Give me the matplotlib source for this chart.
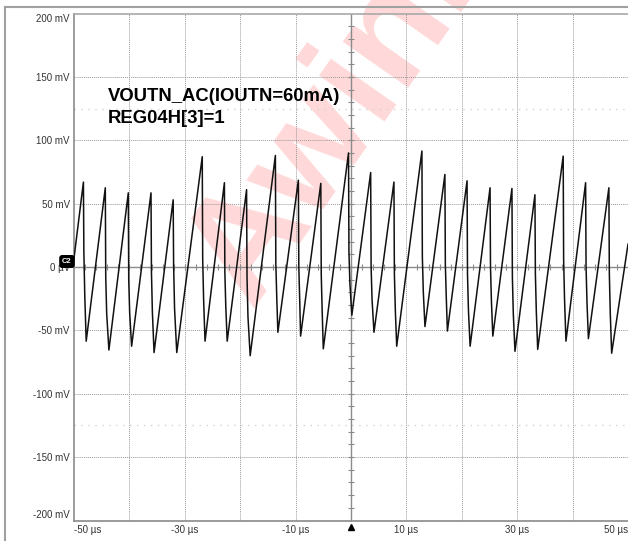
import numpy as np
import matplotlib
matplotlib.use('Agg')
import matplotlib.pyplot as plt
from matplotlib.lines import Line2D
from matplotlib.transforms import ScaledTranslation

plt.rcParams['font.family'] = ['Liberation Sans', 'DejaVu Sans']

# sawtooth (us, mV)
peak_t = [-48.3, -44.35, -40.2, -36.1, -32.1, -26.85, -22.85, -18.85, -13.65, -9.5, -5.45, -0.45,
          3.55, 7.75, 12.8, 16.95, 20.95, 25.1, 29.05, 33.2, 38.3, 42.35, 46.55]
peak_v = [67, 62.5, 58.5, 58.5, 53, 87, 66.5, 61, 88, 68.5, 66, 90,
          74.5, 67, 91.5, 73, 68, 62.5, 62, 57, 87.5, 66.5, 62.5]
mid_v = [12, -8, -10, -4, 2, 6, -4, -8, 3, 0, -6, 12,
         0, -5, 8, 2, -6, 0, -8, -5, 6, 0, -5]
trough_t = [-47.8, -43.7, -39.6, -35.55, -31.45, -26.35, -22.35, -18.2, -13.2, -9.1, -5.0, 0.15,
            4.15, 8.25, 13.35, 17.4, 21.5, 25.6, 29.6, 33.7, 38.8, 42.85, 47.05]
trough_v = [-58.5, -65.5, -62.5, -67.5, -67.5, -58.5, -58.5, -70, -51.5, -54.5, -64.5, -38,
            -51.5, -62.5, -47, -50.5, -62.5, -54.5, -66.5, -65, -58.5, -56.5, -68]
start_v = 7
end_v = 18

t = [-50.0]
v = [start_v]
for i in range(len(peak_t)):
    t += [peak_t[i], peak_t[i] + 0.08, peak_t[i] + 0.25, trough_t[i]]
    v += [peak_v[i], mid_v[i], (mid_v[i] + trough_v[i]) / 2, trough_v[i]]
t.append(50.0)
v.append(end_v)

xtick_vals = [-50, -30, -10, 10, 30, 50]
xtick_labels = ['-50 µs', '-30 µs', '-10 µs', '10 µs', '30 µs', '50 µs']
ytick_vals = [200, 150, 100, 50, 0, -50, -100, -150, -200]
ytick_labels = ['200 mV', '150 mV', '100 mV', '50 mV', '0 µV', '-50 mV', '-100 mV', '-150 mV', '-200 mV']

W, H = 628, 541
fig = plt.figure(figsize=(W / 100, H / 100), dpi=100)
fig.patch.set_facecolor('white')
ax = fig.add_axes([74 / W, 20.5 / H, 554 / W, 507 / H])
ax.patch.set_visible(False)
ax.set_xlim(-50, 50)
ax.set_ylim(-200, 200)

ax.spines['right'].set_visible(False)
for s in ['left', 'bottom']:
    ax.spines[s].set_color('#8a8a8a')
    ax.spines[s].set_linewidth(1.2)
ax.spines['top'].set_color('#a8a8a8')
ax.spines['top'].set_linewidth(1.2)

# dotted grid
for x in range(-40, 50, 10):
    if x != 0:
        ax.axvline(x, color='#9a9a9a', ls=(0, (1, 1)), lw=0.7, zorder=1)
for y in [-150, -100, -50, 50, 100, 150]:
    ax.axhline(y, color='#9a9a9a', ls=(0, (1, 1)), lw=0.7, zorder=1)
# faint cursor lines
for y in [125, -125]:
    ax.axhline(y, color='#d2d2d2', ls=(0, (1, 4)), lw=1.0, zorder=1)

# centre cross with minor ticks
ax.axhline(0, color='#8a8a8a', lw=1.0, zorder=1)
ax.axvline(0, color='#8a8a8a', lw=1.0, zorder=1)
xs = np.arange(-48, 50, 2)
ax.plot(xs, np.zeros_like(xs), ls='none', marker='|', ms=4, mew=0.8, color='#8a8a8a', zorder=1)
ys = np.arange(-190, 200, 10)
ax.plot(np.zeros_like(ys), ys, ls='none', marker='_', ms=4, mew=0.8, color='#8a8a8a', zorder=1)

ax.plot(t, v, color='#111111', lw=1.1, zorder=3)

ax.set_xticks(xtick_vals, xtick_labels)
ax.set_yticks(ytick_vals, ytick_labels)
ax.tick_params(length=0, labelsize=7, labelcolor='#333333')
ax.tick_params(axis='x', pad=3)
ax.tick_params(axis='y', pad=3)
xl = ax.get_xticklabels()
xl[0].set_ha('left')
xl[-1].set_ha('right')
yl = ax.get_yticklabels()
yl[0].set_va('top')
yl[-1].set_va('bottom')

# trigger marker
tr = ax.transData + ScaledTranslation(0, -6 / 100, fig.dpi_scale_trans)
ax.plot([0], [-200], marker='^', color='black', ms=4.5, transform=tr, clip_on=False, zorder=5)

# outer frame
fig.add_artist(Line2D([5 / W, 5 / W], [0, 1 - 6.5 / H], transform=fig.transFigure, color='#a0a0a0', lw=1.5))
fig.add_artist(Line2D([5 / W, 1], [1 - 6.5 / H, 1 - 6.5 / H], transform=fig.transFigure, color='#a0a0a0', lw=1.5))

# channel tag
fig.text(67 / W, 1 - 261.5 / H, 'C2', color='white', fontsize=5.5, fontweight='bold', ha='center', va='center',
         bbox=dict(boxstyle='round,pad=0.3', fc='black', ec='black'), zorder=5)

# caption
fig.text(108 / W, 1 - 100.7 / H, 'VOUTN_AC(IOUTN=60mA)', fontsize=13.3, fontweight='bold', color='black',
         ha='left', va='baseline', zorder=4)
fig.text(108 / W, 1 - 123.3 / H, 'REG04H[3]=1', fontsize=13.3, fontweight='bold', color='black',
         ha='left', va='baseline', zorder=4)

# watermark
fig.text(250 / W, 1 - 308 / H, 'Awinic', rotation=55, rotation_mode='anchor', ha='left', va='baseline',
         fontsize=108, fontweight='bold', color='#ffd9d9', zorder=-1)

fig.savefig('out.png', dpi=100)
